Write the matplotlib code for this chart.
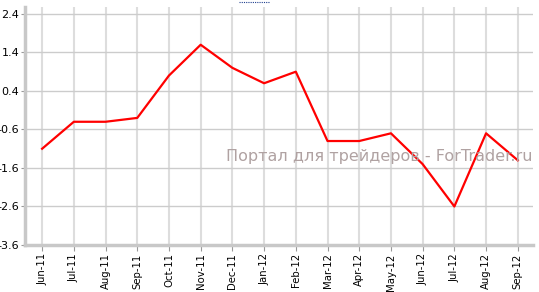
import matplotlib
matplotlib.use("Agg")
import matplotlib.pyplot as plt
from matplotlib.lines import Line2D

months = ["Jun-11", "Jul-11", "Aug-11", "Sep-11", "Oct-11", "Nov-11", "Dec-11", "Jan-12",
          "Feb-12", "Mar-12", "Apr-12", "May-12", "Jun-12", "Jul-12", "Aug-12", "Sep-12"]
values = [-1.1, -0.4, -0.4, -0.3, 0.8, 1.6, 1.0, 0.6, 0.9, -0.9, -0.9, -0.7, -1.5, -2.6, -0.7, -1.4]
yticks = [-3.6, -2.6, -1.6, -0.6, 0.4, 1.4, 2.4]

fig = plt.figure(figsize=(5.39, 2.92), dpi=100)
ax = fig.add_axes([25 / 539, 47 / 292, 508 / 539, 238 / 292])

x = list(range(len(months)))
ax.plot(x, values, color="#ff0000", lw=1.6, zorder=3)

ax.set_xlim(-0.54, 15.48)
ax.set_ylim(-3.6, 2.58)
ax.set_yticks(yticks)
ax.set_yticklabels([f"{v:.1f}" for v in yticks])
ax.set_xticks(x)
ax.set_xticklabels(months, rotation=90)

ax.grid(axis="y", color="#cccccc", lw=1)
ax.grid(axis="x", color="#dddddd", lw=1.5)
for s in ["top", "right"]:
    ax.spines[s].set_visible(False)
for s in ["left", "bottom"]:
    ax.spines[s].set_color("#c8c8c8")
    ax.spines[s].set_linewidth(2.5)
ax.tick_params(axis="y", length=3, color="#999999", labelsize=8, pad=1)
ax.tick_params(axis="x", length=4, color="#999999", labelsize=7.3, pad=2)

ax.text(532 / 539, 1 - 156 / 292, "Портал для трейдеров - ForTrader.ru", transform=fig.transFigure,
        ha="right", va="center", fontsize=11.5, color="#b0a2a2")

fig.add_artist(Line2D([239 / 539, 270 / 539], [1 - 1.5 / 292, 1 - 1.5 / 292],
                      transform=fig.transFigure, color="#1f3f8f", lw=0.8, ls=(0, (1, 1))))

fig.savefig("out.png", dpi=100)
